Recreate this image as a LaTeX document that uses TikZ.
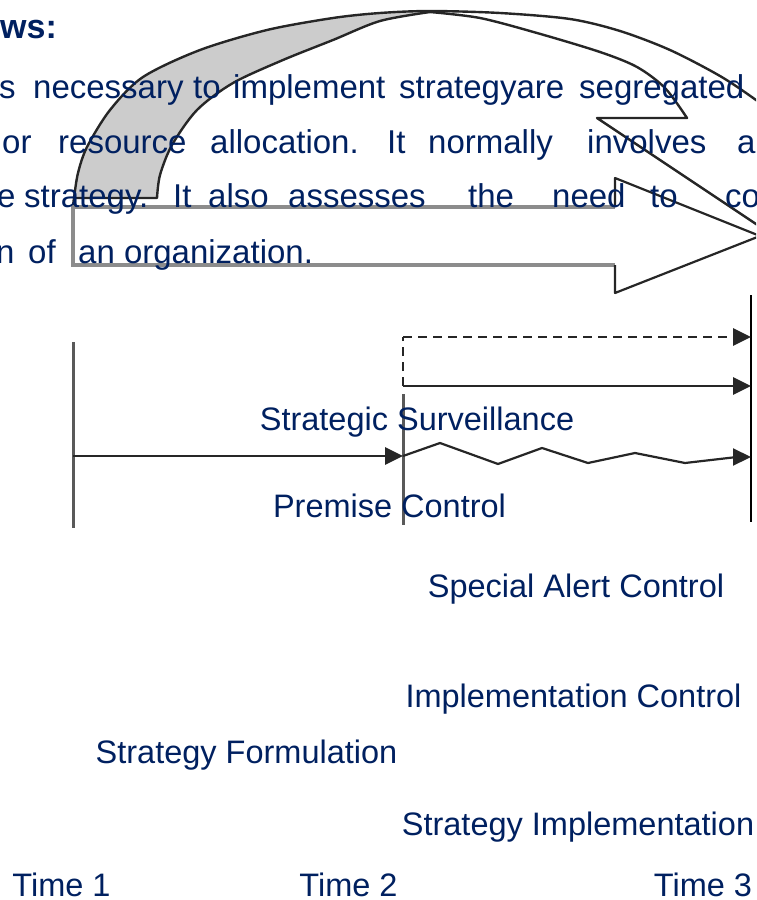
\documentclass[tikz,border=0pt]{standalone}
\usepackage{fontspec}
\setmainfont{Liberation Sans}
\usetikzlibrary{arrows.meta}
\definecolor{txt}{RGB}{0,32,96}
\definecolor{band}{RGB}{204,204,204}
\begin{document}
\begin{tikzpicture}[x=1pt,y=-1pt,
  body/.style={anchor=base west, inner sep=0pt, text=txt, font=\fontsize{33}{33}\selectfont},
  lbl/.style={anchor=base, inner sep=0pt, text=txt, font=\fontsize{32.5}{32.5}\selectfont},
  tline/.style={line width=2.8pt, black!85},
  vline/.style={line width=3pt, black!65},
  tipped/.style={-{Triangle[length=18pt,width=17pt]}},
  outl/.style={line width=2.4pt, black!85, line join=round}]
\useasboundingbox (0,0) rectangle (756,900);
\clip (0,0) rectangle (756,900);

% ---- curved block arrow: grey rising part
\fill[band] plot[smooth] coordinates {(74,198) (78,173) (87,147) (110,110) (143,77) (200,50) (267,30) (333,18) (380,13) (430,11)}
  -- plot[smooth] coordinates {(430,11) (380,21) (333,40) (283,60) (233,83) (197,110) (172,145) (160,175) (157,198)} -- cycle;
% ---- curved block arrow: white descending part with head
\fill[white] plot[smooth] coordinates {(430,11) (500,13) (570,19) (620,31) (670,50) (720,76) (756,100) (790,126)}
  -- (840,118) -- (780,240) -- (597,118) -- (687,118)
  -- plot[smooth] coordinates {(687,118) (665,88) (637,67) (600,52) (537,33) (480,18) (430,12)};
\draw[outl] plot[smooth] coordinates {(73,207) (74,198) (78,173) (87,147) (110,110) (143,77) (200,50) (267,30) (333,18) (380,13) (430,11) (500,13) (570,19) (620,31) (670,50) (720,76) (756,100) (790,126)};
\draw[outl] (74,198) -- (157,198) -- plot[smooth] coordinates {(157,198) (160,175) (172,145) (197,110) (233,83) (283,60) (333,40) (380,21) (430,12)};
\draw[outl] plot[smooth] coordinates {(430,12) (480,18) (537,33) (600,52) (637,67) (665,88) (687,118)} -- (597,118) -- (780,240);

% ---- big straight block arrow
\coordinate (ba1) at (73,207); \coordinate (ba2) at (615,207); \coordinate (ba3) at (615,178);
\coordinate (ba4) at (760,236); \coordinate (ba5) at (615,293); \coordinate (ba6) at (615,265);
\coordinate (ba7) at (73,265);
\fill[white] (ba1) -- (ba2) -- (ba3) -- (ba4) -- (ba5) -- (ba6) -- (ba7) -- cycle;
\draw[line width=3.8pt, black!45] (ba2) -- (ba1) -- (ba7) -- (ba6);
\draw[line width=2.2pt, black!85, line join=round] (ba2) -- (ba3) -- (ba4) -- (ba5) -- (ba6);

% ---- paragraph text
\node[anchor=base west, inner sep=0pt, text=txt, font=\fontsize{34}{34}\selectfont\bfseries] (head) at (0,38) {ws:};
\foreach \w/\x [count=\i] in {s/-1, necessary/33, to/193, implement/233, strategyare/399, segregated/579}
  \node[body] (la\i) at (\x,98) {\w};
\foreach \w/\x [count=\i] in {or/2, resource/58, allocation./210, It/387, normally/428, involves/587, a/737}
  \node[body] (lb\i) at (\x,153) {\w};
\foreach \w/\x [count=\i] in {e/-3, strategy./24, It/173, also/208, assesses/288, the/468, need/552, to/650, co/725}
  \node[body] (lc\i) at (\x,207) {\w};
\foreach \w/\x [count=\i] in {n/-4, of/28, an organization./78}
  \node[body] (ld\i) at (\x,263) {\w};

% ---- timeline
\coordinate (t1top) at (73,342); \coordinate (t1bot) at (73,528); \coordinate (t1mid) at (73,456);
\coordinate (t2mid) at (403,456); \coordinate (t2dash) at (403,337); \coordinate (t2sol) at (403,386);
\coordinate (t2top) at (403,394); \coordinate (t2bot) at (403,525);
\coordinate (t3top) at (751,295); \coordinate (t3bot) at (751,522);
\coordinate (t3dash) at (751,337); \coordinate (t3sol) at (751,386); \coordinate (t3zig) at (751,457);

\draw[vline] (t1top) -- (t1bot);
\draw[vline] (t2top) -- (t2bot);
\draw[line width=2.2pt, black] (t3top) -- (t3bot);
\draw[tline, tipped] (t1mid) -- (t2mid);
\draw[tline, dash pattern=on 9pt off 6pt] (t2sol) -- (t2dash);
\draw[tline, dash pattern=on 9pt off 6pt, tipped] (t2dash) -- (t3dash);
\draw[tline, tipped] (t2sol) -- (t3sol);
\draw[line width=2.2pt, black!85, tipped, line join=round] (t2mid) -- (440,443) -- (498,464) -- (542,448) -- (588,463) -- (635,453) -- (685,463) -- (737,457) -- (t3zig);

% ---- labels
\node[lbl] (ss) at (417,430) {Strategic Surveillance};
\node[lbl] (pc) at (389.5,517) {Premise Control};
\node[lbl] (sac) at (576,597) {Special Alert Control};
\node[lbl] (ic) at (573.5,707) {Implementation Control};
\node[lbl] (sf) at (246.5,763) {Strategy Formulation};
\node[lbl] (si) at (578,835) {Strategy Implementation};
\node[lbl] (time1) at (61.5,896) {Time 1};
\node[lbl] (time2) at (348.5,896) {Time 2};
\node[lbl] (time3) at (703,896) {Time 3};
\end{tikzpicture}
\end{document}
